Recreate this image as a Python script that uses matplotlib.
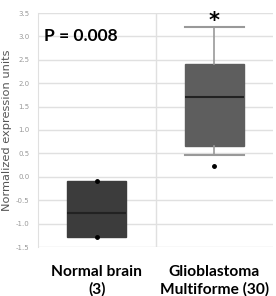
import numpy as np
import matplotlib.pyplot as plt

groups = ["Normal brain\n(3)", "Glioblastoma\nMultiforme (30)"]
q1 = [-1.28, 0.66]
med = [-0.77, 1.71]
q3 = [-0.08, 2.41]
whislo = [-1.28, 0.47]
whishi = [-0.08, 3.2]
fliers = [[-0.08, -1.28], [0.24]]
box_colors = ["#3c3c3c", "#5e5e5e"]
show_caps = [False, True]
p_text = "P = 0.008"

fig = plt.figure(figsize=(2.76, 2.96), dpi=100)
ax = fig.add_axes([38/276, 1 - 247/296, 235/276, 234/296])

stats = []
for i in range(len(groups)):
    stats.append(dict(q1=q1[i], med=med[i], q3=q3[i], whislo=whislo[i],
                      whishi=whishi[i], fliers=fliers[i]))

bp = ax.bxp(stats, positions=[1, 2], widths=0.5, patch_artist=True,
            showfliers=True,
            medianprops=dict(color="#222222", linewidth=1.5),
            whiskerprops=dict(color="#999999", linewidth=1.2),
            capprops=dict(color="#999999", linewidth=1.5),
            flierprops=dict(marker="o", markersize=2.5, markerfacecolor="black",
                            markeredgecolor="black"))
for patch, c in zip(bp["boxes"], box_colors):
    patch.set_facecolor(c)
    patch.set_edgecolor(c)
# caps as wide as the box
for i, cap in enumerate(bp["caps"]):
    xs = cap.get_xdata()
    m = (xs[0] + xs[1]) / 2
    cap.set_xdata([m - 0.25, m + 0.25])
    cap.set_visible(show_caps[i // 2])

ax.set_xlim(0.5, 2.5)
ax.set_ylim(-1.5, 3.5)
ax.set_yticks(np.arange(-1.5, 3.51, 0.5))
ax.set_yticklabels(["%.1f" % v for v in np.arange(-1.5, 3.51, 0.5)])
ax.set_xticks([1.5])
ax.set_xticklabels([])
ax.grid(True, axis="y", color="#e0e0e0", linewidth=1)
ax.grid(True, axis="x", color="#e0e0e0", linewidth=1)
ax.set_axisbelow(True)
ax.tick_params(axis="y", length=0, labelsize=5, labelcolor="#999999", pad=6)
ax.tick_params(axis="x", length=0)
for s in ["top", "right", "bottom"]:
    ax.spines[s].set_visible(False)
ax.spines["left"].set_color("#e0e0e0")

# category labels, centred under each box
for i, g in enumerate(groups):
    ax.annotate(g, xy=(i + 1, 0), xycoords=("data", "axes fraction"),
                xytext=(0, -13), textcoords="offset points",
                ha="center", va="top", multialignment="center",
                fontsize=11.2, fontweight="bold", family="Lato", linespacing=1.3)

ax.set_ylabel("Normalized expression units", fontsize=8.2, color="#555555", labelpad=3)
ax.text(0.55, 3.0, p_text, fontsize=12.5, fontweight="bold", family="Lato",
        va="center", ha="left")
ax.text(2, 3.33, "*", fontsize=15, fontweight="bold", ha="center", va="center")

fig.savefig("out.png", dpi=100)
